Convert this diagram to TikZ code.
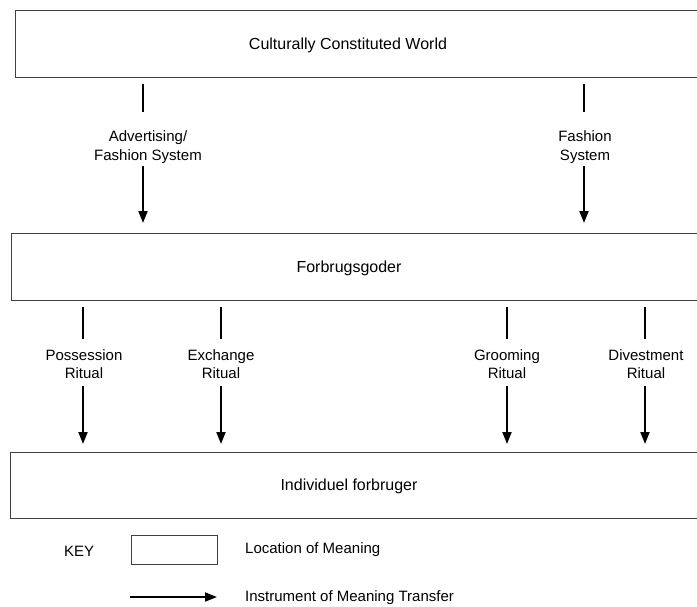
\documentclass[tikz,border=0pt]{standalone}
\usepackage{fontspec}
\setmainfont{Liberation Sans}
\usetikzlibrary{arrows.meta}
\begin{document}
\begin{tikzpicture}[x=1pt,y=-1pt,
  loc/.style={draw=black!75, line width=0.9pt},
  big/.style={font=\fontsize{16}{19}\selectfont, inner sep=0pt},
  lab/.style={font=\fontsize{15}{18.5}\selectfont, align=center, inner sep=0pt},
  keytxt/.style={font=\fontsize{15}{18}\selectfont, anchor=west, inner sep=0pt},
  conn/.style={line width=1.8pt},
  arr/.style={conn, -{Triangle[length=12pt,width=9pt]}}]
\useasboundingbox (0,0) rectangle (697,606);
% location boxes
\draw[loc] (15,10) coordinate (cwtl) rectangle (705,77) coordinate (cwbr);
\node[big] (cw) at (348,45) {Culturally Constituted World};
\draw[loc] (11,233) coordinate (fgtl) rectangle (705,300) coordinate (fgbr);
\node[big] (fg) at (349,268) {Forbrugsgoder};
\draw[loc] (10,452) coordinate (iftl) rectangle (705,518) coordinate (ifbr);
\node[big] (if) at (349,486) {Individuel forbruger};
% top arrows
\node[lab] (l1) at (148,147) {Advertising/\\Fashion System};
\node[lab] (l2) at (585,147) {Fashion\\System};
\foreach \n/\x in {1/143,2/584}{
  \coordinate (t\n s) at (\x,84);
  \coordinate (t\n m) at (\x,112);
  \coordinate (t\n n) at (\x,166);
  \coordinate (t\n e) at (\x,223);
  \draw[conn] (t\n s) -- (t\n m);
  \draw[arr] (t\n n) -- (t\n e);
}
% ritual arrows
\node[lab] (r1) at (84,364) {Possession\\Ritual};
\node[lab] (r2) at (221,364) {Exchange\\Ritual};
\node[lab] (r3) at (507,364) {Grooming\\Ritual};
\node[lab] (r4) at (646,364) {Divestment\\Ritual};
\foreach \n/\x in {1/83,2/221,3/507,4/645}{
  \coordinate (b\n s) at (\x,307);
  \coordinate (b\n m) at (\x,339);
  \coordinate (b\n n) at (\x,386);
  \coordinate (b\n e) at (\x,444);
  \draw[conn] (b\n s) -- (b\n m);
  \draw[arr] (b\n n) -- (b\n e);
}
% key
\node[keytxt] (key) at (64,551) {KEY};
\node[loc, minimum width=86pt, minimum height=29pt, inner sep=0pt] (kbox) at (174,549.5) {};
\node[keytxt] (klo) at (245,550) {Location of Meaning};
\coordinate (kas) at (130,597);
\coordinate (kae) at (217,597);
\draw[arr] (kas) -- (kae);
\node[keytxt] (kin) at (245,598) {Instrument of Meaning Transfer};
\end{tikzpicture}
\end{document}
